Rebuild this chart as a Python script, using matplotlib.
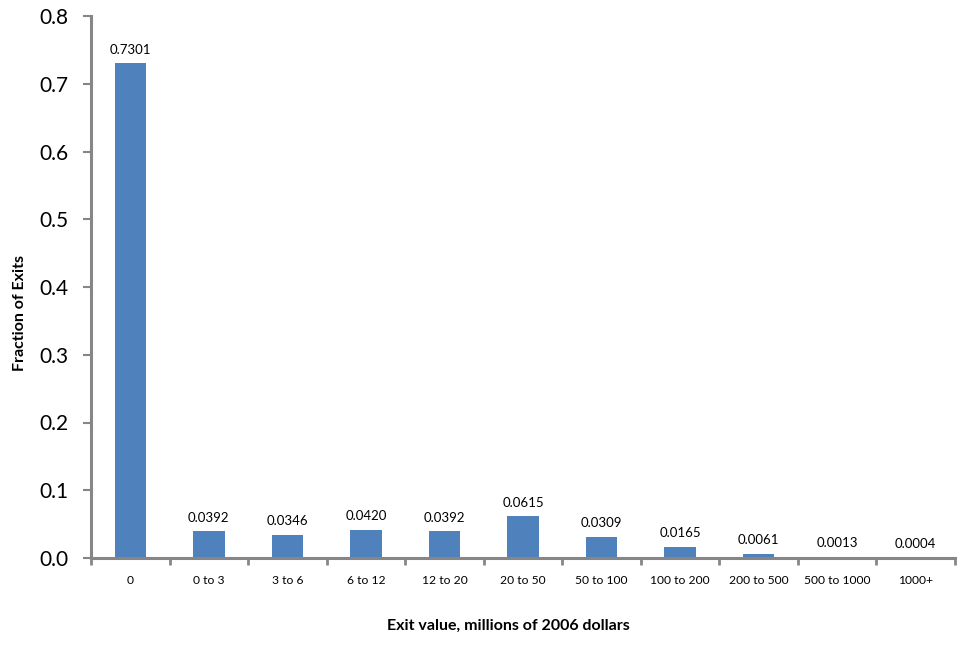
import matplotlib
matplotlib.use("Agg")
import matplotlib.pyplot as plt
import numpy as np

categories = ["0", "0 to 3", "3 to 6", "6 to 12", "12 to 20", "20 to 50",
              "50 to 100", "100 to 200", "200 to 500", "500 to 1000", "1000+"]
values = [0.7301, 0.0392, 0.0346, 0.0420, 0.0392, 0.0615,
          0.0309, 0.0165, 0.0061, 0.0013, 0.0004]
value_labels = ["0.7301", "0.0392", "0.0346", "0.0420", "0.0392", "0.0615",
                "0.0309", "0.0165", "0.0061", "0.0013", "0.0004"]
yticks = [0.0, 0.1, 0.2, 0.3, 0.4, 0.5, 0.6, 0.7, 0.8]
ytick_labels = ["0.0", "0.1", "0.2", "0.3", "0.4", "0.5", "0.6", "0.7", "0.8"]

plt.rcParams['font.family'] = ['Lato', 'DejaVu Sans']

fig = plt.figure(figsize=(9.6, 6.45), dpi=100)
ax = fig.add_axes([91/960, 1-558/645, (955-91)/960, (558-16)/645])

x = np.arange(len(categories))
ax.bar(x, values, width=0.4, color="#4F81BD", zorder=2)
for xi, v, lab in zip(x, values, value_labels):
    ax.annotate(lab, (xi, v), xytext=(0, 5.5), textcoords="offset points",
                ha="center", va="bottom", fontsize=9.5)

ax.set_xlim(-0.5, len(categories) - 0.5)
ax.set_ylim(0, 0.8)
ax.set_yticks(yticks)
ax.set_yticklabels(ytick_labels, fontsize=15)
ax.set_xticks(x)
ax.set_xticklabels(categories, fontsize=8.7)
ax.tick_params(axis="x", length=0, pad=12)
ax.set_xticks(np.arange(len(categories) + 1) - 0.5, minor=True)
ax.tick_params(axis="x", which="minor", length=5, width=2, color="#868686")
ax.tick_params(axis="y", length=6, width=1.5, color="#868686", pad=10)

for s in ["top", "right"]:
    ax.spines[s].set_visible(False)
for s in ["left", "bottom"]:
    ax.spines[s].set_color("#868686")
    ax.spines[s].set_linewidth(2.2)

ax.set_xlabel("Exit value, millions of 2006 dollars", fontsize=11.5,
              fontweight="bold")
ax.xaxis.set_label_coords((508 - 91) / 864, -(619 - 558) / 542)
ax.set_ylabel("Fraction of Exits", fontsize=11.5, fontweight="bold")
ax.yaxis.set_label_coords(-(91 - 27) / 864, (558 - 313) / 542)

fig.savefig("out.png", dpi=100)
